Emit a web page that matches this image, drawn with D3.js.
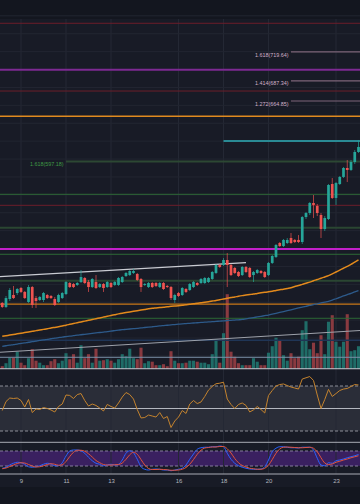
<!DOCTYPE html>
<html><head><meta charset="utf-8">
<script src="https://cdn.jsdelivr.net/npm/d3@7"></script>
<style>html,body{margin:0;padding:0;background:#181b26;overflow:hidden}svg{display:block}</style>
</head><body><svg id="c" width="360" height="504"></svg>
<script>
// ---- data (4h candles starting 2021-08-08 04:00 UTC) ----
const candleStart = Date.UTC(2021,7,8,4);
const candleHours = 4;
const opens  = [439.2,434.7,443.6,448.1,450.3,455.9,451.5,440.3,457.0,444.7,442.5,442.5,448.1,447.0,443.6,440.3,444.7,449.2,461.5,460.4,459.3,462.6,467.1,462.6,457.0,462.6,457.0,460.4,457.0,461.5,459.3,459.3,462.6,469.3,470.4,472.7,471.6,466.0,459.3,457.0,461.5,461.5,457.0,461.5,458.2,457.0,442.5,450.3,448.1,454.8,453.7,457.0,461.5,461.5,461.5,462.6,466.0,472.7,481.6,481.6,487.2,481.6,478.3,473.8,470.4,479.4,478.3,470.4,472.7,474.9,473.8,470.4,483.9,490.6,506.2,502.8,506.2,511.8,509.6,509.6,507.3,535.2,539.7,550.9,547.6,537.5,521.8,533.0,572.1,556.5,572.1,580.0,590.0,587.8,596.7,607.9];
const highs  = [440.3,447.0,455.9,458.2,455.9,457.0,452.6,459.3,458.2,447.0,447.0,451.5,449.2,448.1,445.9,449.5,451.5,463.7,462.6,461.5,462.6,476.0,468.2,464.9,467.1,470.4,461.5,461.5,463.7,462.6,463.7,468.2,469.3,473.8,476.0,477.2,472.7,467.1,461.5,462.6,462.6,462.6,462.6,462.6,459.3,458.2,449.5,451.5,457.0,455.9,461.5,463.7,462.6,467.1,468.2,468.2,474.9,482.7,482.7,489.4,495.0,482.7,479.4,474.9,480.5,480.5,479.4,474.9,477.2,476.0,474.9,485.0,492.8,505.1,507.3,510.7,511.8,517.4,510.7,515.1,536.3,540.8,552.0,559.8,549.8,539.7,536.3,572.1,578.8,574.3,581.1,591.1,598.9,598.9,610.1,621.3];
const lows   = [433.6,433.6,441.4,443.6,448.1,450.3,443.6,439.2,433.6,433.6,441.4,440.3,443.6,443.6,435.8,439.2,443.6,448.1,455.9,455.9,458.2,461.5,460.4,451.5,455.9,454.8,455.9,451.5,455.9,455.9,458.2,458.2,461.5,468.2,469.3,471.6,463.7,451.5,458.2,455.9,455.9,457.0,455.9,453.7,455.9,442.5,439.2,445.9,447.0,450.3,452.6,455.9,458.2,460.4,460.4,461.5,464.9,471.6,478.3,480.5,457.0,469.3,471.6,468.2,469.3,472.7,467.1,462.6,471.6,471.6,467.1,469.3,482.7,489.4,501.7,501.7,505.1,505.1,506.2,506.2,505.1,533.0,537.5,534.1,536.3,511.8,519.6,531.9,555.4,548.7,571.0,578.8,574.3,586.7,594.5,606.8];
const closes = [434.7,444.7,453.7,444.7,454.8,451.5,444.7,457.0,436.9,441.4,445.9,450.3,444.7,444.7,436.9,448.1,450.3,462.6,457.0,457.0,461.5,468.2,461.5,457.0,466.0,455.9,460.4,455.9,462.6,457.0,462.6,467.1,468.2,472.7,474.9,474.9,464.9,457.0,460.4,461.5,457.0,458.2,461.5,454.8,457.0,444.7,448.1,447.0,455.9,451.5,460.4,462.6,459.3,466.0,467.1,467.1,473.8,481.6,479.4,487.2,481.6,470.4,472.7,469.3,479.4,473.8,468.2,473.8,476.0,472.7,468.2,483.9,491.7,504.0,502.8,509.6,509.6,506.2,507.3,507.3,535.2,539.7,550.9,548.7,539.7,521.8,534.1,571.0,556.5,573.2,580.0,590.0,587.8,596.7,607.9,613.5];
const volumes = [5,11,22,22,34,12,7,21,39,16,12,7,7,15,19,11,16,31,19,29,12,47,21,29,12,40,16,17,19,16,12,19,29,25,40,21,19,42,11,15,14,7,7,9,5,35,16,11,11,12,16,16,14,12,12,9,29,59,12,71,149,34,24,11,7,7,7,21,14,7,7,32,45,62,57,27,16,31,21,24,77,95,39,52,31,67,29,94,107,54,44,54,109,35,37,45];
const maOrange = [401.9,402.6,403.3,404.0,404.7,405.4,406.1,406.8,407.5,408.3,409.0,409.7,410.4,411.2,411.9,412.6,413.4,414.4,415.3,416.2,417.1,418.0,418.9,419.8,420.7,421.6,422.5,423.4,424.3,425.2,426.1,427.0,427.8,428.5,429.2,429.9,430.6,431.3,432.0,432.7,433.3,433.7,434.1,434.5,435.0,435.4,435.8,436.2,436.7,437.3,437.8,438.4,438.9,439.5,440.0,440.6,441.3,442.0,442.8,443.6,444.4,445.2,445.9,446.7,447.4,448.0,448.6,449.2,449.9,450.5,451.1,451.7,452.4,453.2,453.9,454.6,455.4,456.2,457.5,458.7,460.0,461.3,462.5,464.0,465.4,466.9,468.3,469.7,471.7,473.8,475.9,478.0,480.1,482.3,484.8,487.3];
const maBlue = [390.7,391.4,392.0,392.7,393.3,394.0,394.6,395.3,395.9,396.6,397.3,397.9,398.6,399.2,399.9,400.5,401.1,401.6,402.1,402.6,403.2,403.7,404.2,404.7,405.2,405.7,406.2,406.7,407.2,407.8,408.3,408.8,409.3,409.7,410.1,410.5,410.9,411.4,411.8,412.2,412.6,413.0,413.5,413.9,414.3,414.7,415.1,415.5,415.9,416.2,416.5,416.8,417.1,417.4,417.7,418.0,418.3,418.6,418.9,419.2,419.5,419.8,420.1,420.4,420.8,421.5,422.2,422.9,423.6,424.3,425.0,425.7,426.6,427.6,428.6,429.6,430.6,431.6,432.6,433.6,434.6,435.5,436.4,437.4,438.3,439.3,440.2,441.1,442.4,443.9,445.4,447.0,448.5,450.0,451.6,453.1];
const rsi = [48.2,56.2,59.3,58.9,59.3,57.1,51.3,58.0,46.4,49.6,49.1,50.9,50.0,48.7,46.9,51.8,54.0,62.0,61.6,58.9,62.4,63.3,57.1,52.2,54.0,52.7,50.4,47.8,53.6,51.8,50.4,54.9,60.2,64.2,62.4,58.4,49.1,41.6,42.0,44.2,43.3,42.4,46.4,41.1,42.9,33.1,38.9,42.4,48.2,45.6,54.0,57.1,54.4,55.8,60.7,66.4,69.6,72.0,72.5,73.4,58.4,53.6,50.0,53.6,54.9,52.7,46.9,48.8,51.8,49.1,46.0,61.6,66.0,70.0,71.3,71.8,70.4,69.1,68.2,67.3,76.2,77.3,78.4,74.9,62.0,50.0,58.0,67.0,60.7,63.3,66.0,67.3,67.8,69.6,71.3,70.9];
const stochK = [11,15,24,31,35,33,27,17,15,17,21,27,31,28,21,21,33,60,80,84,84,81,71,55,41,31,27,21,24,27,24,27,44,71,81,73,47,17,7,4,7,8,7,4,4,1,4,7,11,24,47,68,87,93,95,95,97,97,100,97,71,47,31,21,15,11,8,7,7,8,17,44,77,91,97,97,95,93,93,92,95,95,95,84,51,24,21,33,31,41,44,48,53,57,61,66];
const stochD = [9,12,18,24,30,33,32,26,20,16,17,21,26,29,27,23,25,38,58,75,83,83,79,69,56,42,33,26,24,24,25,26,32,47,65,75,67,46,24,10,6,6,7,6,5,3,3,4,7,14,27,46,67,83,92,94,96,96,98,98,89,72,50,33,22,16,11,9,7,7,11,23,46,71,88,95,96,95,94,93,93,94,95,91,77,53,32,26,28,35,39,44,48,53,57,61];
const tickDays = [9,11,13,16,18,20,23];
const tickLabels = ["9","11","13","16","18","20","23"];
// horizontal levels (prices)
const redLevels = [751.7,676.0,548.3];
const purpleLevels = [699.7];
const orangeLevels = [647.8,437.8];
const greenLevels = [560.6,493.6,422.1];
const greenWideLevels = [523.3,464.1];
const magentaLevels = [499.5];
const navyLevels = [397.5];
const paleBlueLevels = [378.5];
const whiteLevels = [365.7];
const tealRay = {day:18, price:620.2};
const fibUpperRatios = ["1.618","1.414","1.272"];
const fibUpperPrices = [719.64,687.34,664.85];
const fibUpperStartDay = 21;
const fibLower = {ratio:"1.618", price:597.18, day:11};
const upperTrend = [[Date.UTC(2021,7,8,0),468.5],[Date.UTC(2021,7,19,0),484.3]];
const lowerTrend = [[Date.UTC(2021,7,8,0),384.0],[Date.UTC(2021,7,24,4),408.6]];

// ---- scales ----
const W=360,H=504;
const svg=d3.select('#c');
const x=d3.scaleUtc().domain([new Date(Date.UTC(2021,7,8,1,36)),new Date(Date.UTC(2021,7,24,1,36))]).range([0,W]);
const y=d3.scaleLinear().domain([364.3,777.7]).range([370,0]);
const yVol=d3.scaleLinear().domain([0,200]).range([368.7,268.7]);
const yRsi=d3.scaleLinear().domain([30,70]).range([431,386]);
const ySto=d3.scaleLinear().domain([0,100]).range([471,446]);
const times=opens.map((_,i)=>new Date(candleStart+i*candleHours*3600e3));
const dayDate=d=>new Date(Date.UTC(2021,7,d));

// ---- backgrounds ----
svg.append('rect').attr('width',W).attr('height',H).attr('fill','#181b26');
svg.append('rect').attr('width',W).attr('height',19).attr('fill','#13161f');
svg.append('rect').attr('y',487).attr('width',W).attr('height',17).attr('fill','#13161f');
svg.append('rect').attr('y',yRsi(70)).attr('width',W).attr('height',yRsi(30)-yRsi(70)).attr('fill','#2a2d38');
svg.append('rect').attr('y',ySto(80)).attr('width',W).attr('height',ySto(20)-ySto(80)).attr('fill','#3a2060');

// grid
const grid=svg.append('g');
grid.selectAll('line.v').data(tickDays).join('line')
  .attr('x1',d=>x(dayDate(d))).attr('x2',d=>x(dayDate(d)))
  .attr('y1',19).attr('y2',474).attr('stroke','#242834').attr('stroke-width',1);
grid.selectAll('line.h').data(d3.range(380,780,20)).join('line')
  .attr('x1',0).attr('x2',W).attr('y1',d=>y(d)).attr('y2',d=>y(d))
  .attr('stroke','#222631').attr('stroke-width',1);

svg.append('clipPath').attr('id','mainclip').append('rect').attr('x',0).attr('y',19).attr('width',W).attr('height',351);
const main=svg.append('g').attr('clip-path','url(#mainclip)');

// volume
main.append('g').selectAll('rect').data(volumes).join('rect')
  .attr('x',(d,i)=>x(times[i])-1.55).attr('width',3.1)
  .attr('y',d=>yVol(d)).attr('height',d=>yVol(0)-yVol(d))
  .attr('fill',(d,i)=>closes[i]>=opens[i]?'#1f6c67':'#8a3a40');

// horizontal levels
function levels(arr,color,w,x0){
  main.append('g').selectAll('line').data(arr).join('line')
   .attr('x1',x0===undefined?0:x0).attr('x2',W).attr('y1',d=>y(d)).attr('y2',d=>y(d))
   .attr('stroke',color).attr('stroke-width',w);
}
levels(redLevels,'#6c1d2a',1);
levels(purpleLevels,'#7d2a92',2);
levels(orangeLevels.slice(0,1),'#e08a1f',1.5);
levels(orangeLevels.slice(1),'#c97818',1.2);
levels(greenLevels,'#2d6a36',1);
levels(greenWideLevels,'#2a4632',2);
levels(magentaLevels,'#c21fc9',2);
levels(navyLevels,'#1f3556',1.5);
levels(paleBlueLevels,'#7b90a8',1);
levels(whiteLevels,'#c6c9d0',1);
levels([tealRay.price],'#2a8a94',2,x(dayDate(tealRay.day)));
levels([fibLower.price],'#2c4833',2,x(dayDate(fibLower.day)));
levels(fibUpperPrices,'#7d6478',1.2,x(dayDate(fibUpperStartDay)));

// fib labels
main.append('g').selectAll('text').data(fibUpperPrices).join('text')
  .attr('x',x(dayDate(fibUpperStartDay))-2.5).attr('y',d=>y(d)+4.6)
  .attr('text-anchor','end').attr('font-family','Liberation Sans, Arial, sans-serif')
  .attr('font-size',5.4).attr('fill','#d2b0c8')
  .text((d,i)=>`${fibUpperRatios[i]}(${d.toFixed(2)})`);
main.append('text').attr('x',x(dayDate(fibLower.day))-2.5).attr('y',y(fibLower.price)+4.8)
  .attr('text-anchor','end').attr('font-family','Liberation Sans, Arial, sans-serif')
  .attr('font-size',5.4).attr('fill','#3f9a45')
  .text(`${fibLower.ratio}(${fibLower.price.toFixed(2)})`);

// moving averages
const lineMA=d3.line().x((d,i)=>x(times[i])).y(d=>y(d)).curve(d3.curveMonotoneX);
main.append('path').datum(maBlue).attr('d',lineMA).attr('fill','none').attr('stroke','#2d5a8a').attr('stroke-width',1.3);
main.append('path').datum(maOrange).attr('d',lineMA).attr('fill','none').attr('stroke','#e38a1c').attr('stroke-width',1.5);

// trendlines
const lineT=d3.line().x(d=>x(new Date(d[0]))).y(d=>y(d[1]));
main.append('path').datum(lowerTrend).attr('d',lineT).attr('stroke','#9ea2ab').attr('stroke-width',1.1).attr('fill','none');
main.append('path').datum(upperTrend).attr('d',lineT).attr('stroke','#c9cbd2').attr('stroke-width',1.3).attr('fill','none');

// candles
const cg=main.append('g');
const col=i=>closes[i]>=opens[i]?'#26a69a':'#ef5350';
cg.selectAll('line').data(opens).join('line')
  .attr('x1',(d,i)=>x(times[i])).attr('x2',(d,i)=>x(times[i]))
  .attr('y1',(d,i)=>y(highs[i])).attr('y2',(d,i)=>y(lows[i]))
  .attr('stroke',(d,i)=>col(i)).attr('stroke-width',0.8).attr('opacity',0.85);
cg.selectAll('rect').data(opens).join('rect')
  .attr('x',(d,i)=>x(times[i])-1.35).attr('width',2.7)
  .attr('y',(d,i)=>y(Math.max(opens[i],closes[i])))
  .attr('height',(d,i)=>Math.max(0.8,Math.abs(y(opens[i])-y(closes[i]))))
  .attr('fill',(d,i)=>col(i));

// RSI pane
svg.append('line').attr('x1',0).attr('x2',W).attr('y1',yRsi(50)).attr('y2',yRsi(50)).attr('stroke','#b4b7bf').attr('stroke-width',1);
[70,30].forEach(v=>svg.append('line').attr('x1',0).attr('x2',W).attr('y1',yRsi(v)).attr('y2',yRsi(v))
  .attr('stroke','#8b8e97').attr('stroke-width',1).attr('stroke-dasharray','3,2'));
const lineR=d3.line().x((d,i)=>x(times[i])).y(d=>yRsi(d));
svg.append('path').datum(rsi).attr('d',lineR).attr('fill','none').attr('stroke','#c4832e').attr('stroke-width',1);

// Stoch pane
svg.append('line').attr('x1',0).attr('x2',W).attr('y1',442.3).attr('y2',442.3).attr('stroke','#a9acb5').attr('stroke-width',1);
svg.append('line').attr('x1',0).attr('x2',W).attr('y1',474).attr('y2',474).attr('stroke','#a9acb5').attr('stroke-width',1);
[80,20].forEach(v=>svg.append('line').attr('x1',0).attr('x2',W).attr('y1',ySto(v)).attr('y2',ySto(v))
  .attr('stroke','#857c9c').attr('stroke-width',1).attr('stroke-dasharray','3,2'));
const lineS=d3.line().x((d,i)=>x(times[i])).y(d=>ySto(d)).curve(d3.curveMonotoneX);
svg.append('path').datum(stochK).attr('d',lineS).attr('fill','none').attr('stroke','#2962ff').attr('stroke-width',1);
svg.append('path').datum(stochD).attr('d',lineS).attr('fill','none').attr('stroke','#e0533d').attr('stroke-width',1);

// x axis
const ax=svg.append('g').attr('transform','translate(0,475)')
  .call(d3.axisBottom(x).tickValues(tickDays.map(dayDate)).tickSize(0).tickPadding(3.5)
    .tickFormat((d,i)=>tickLabels[i]));
ax.select('.domain').remove();
ax.selectAll('text').attr('font-family','Liberation Sans, Arial, sans-serif').attr('font-size',6).attr('fill','#b2b5be');
</script></body></html>
